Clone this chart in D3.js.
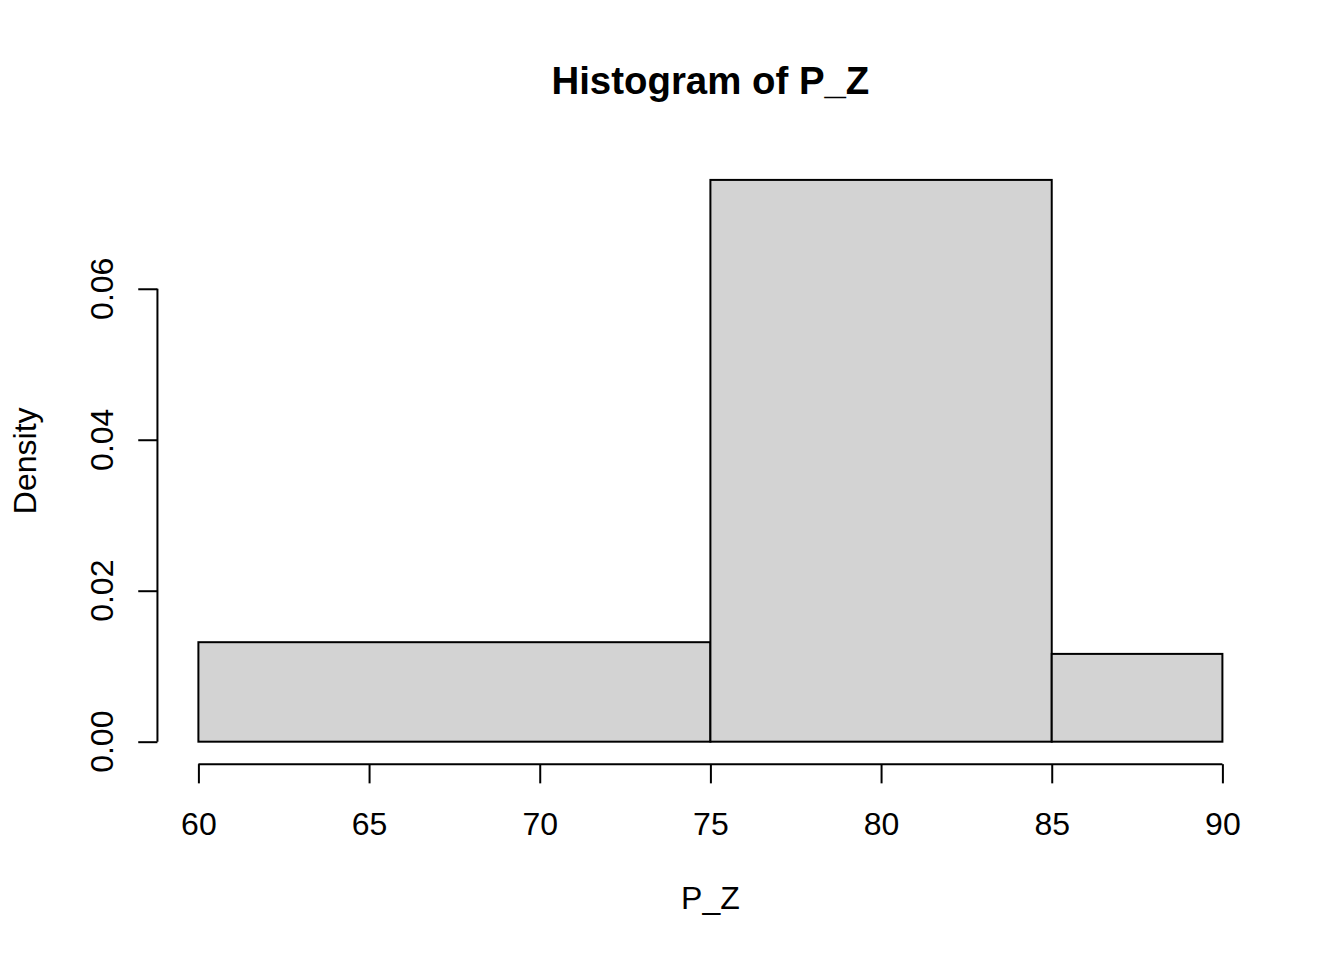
<!DOCTYPE html>
<html>
<head>
<meta charset="utf-8">
<script src="https://cdn.jsdelivr.net/npm/d3@7"></script>
<style>
  html, body { margin: 0; padding: 0; background: #fff; }
  svg { display: block; }
  text { font-family: "Liberation Sans", Arial, sans-serif; fill: #000; }
</style>
</head>
<body>
<svg id="chart" width="1344" height="960"></svg>
<script>
// Data
const binStarts = [60, 75, 85];
const binEnds = [75, 85, 90];
const densities = [0.01318, 0.07442, 0.01163];
const xTicks = [60, 65, 70, 75, 80, 85, 90];
const yTicks = [0, 0.02, 0.04, 0.06];
const yTickLabels = ["0.00", "0.02", "0.04", "0.06"];
const titleText = "Histogram of P_Z";
const xLabel = "P_Z";
const yLabel = "Density";

const W = 1344, H = 960;
const line = 38.4; // one margin line in px
const plot = { left: 4.1 * line, right: W - 2.1 * line, top: 4.1 * line, bottom: H - 5.1 * line };

const svg = d3.select("#chart");

const xmin = 60, xmax = 90, xpad = (xmax - xmin) * 0.04;
const ymax = d3.max(densities), ypad = ymax * 0.04;

const x = d3.scaleLinear().domain([xmin - xpad, xmax + xpad]).range([plot.left, plot.right]);
const y = d3.scaleLinear().domain([0 - ypad, ymax + ypad]).range([plot.bottom, plot.top]);

const bins = binStarts.map((s, i) => ({ x0: s, x1: binEnds[i], d: densities[i] }));

// Bars
svg.append("g").selectAll("rect").data(bins).join("rect")
  .attr("x", d => x(d.x0))
  .attr("y", d => y(d.d))
  .attr("width", d => x(d.x1) - x(d.x0))
  .attr("height", d => y(0) - y(d.d))
  .attr("fill", "#d3d3d3")
  .attr("stroke", "#000")
  .attr("stroke-width", 2);

// X axis
const xAxis = svg.append("g")
  .attr("transform", `translate(0,${plot.bottom})`)
  .call(d3.axisBottom(x).tickValues(xTicks).tickSize(0.5 * line).tickPadding(29).tickSizeOuter(0).tickFormat(d3.format("d")));
xAxis.select(".domain").attr("d", `M${x(xTicks[0])},0H${x(xTicks[xTicks.length - 1])}`)
  .attr("stroke", "#000").attr("stroke-width", 2);
xAxis.selectAll(".tick line").attr("stroke", "#000").attr("stroke-width", 2);
xAxis.selectAll(".tick text").attr("font-size", 32).attr("font-family", "Liberation Sans, Arial, sans-serif").attr("fill", "#000");

// Y axis
const yAxis = svg.append("g")
  .attr("transform", `translate(${plot.left},0)`)
  .call(d3.axisLeft(y).tickValues(yTicks).tickSize(0.5 * line).tickSizeOuter(0).tickFormat(""));
yAxis.select(".domain").attr("d", `M0,${y(yTicks[0])}V${y(yTicks[yTicks.length - 1])}`)
  .attr("stroke", "#000").attr("stroke-width", 2);
yAxis.selectAll(".tick line").attr("stroke", "#000").attr("stroke-width", 2);

svg.append("g").selectAll("text").data(yTicks).join("text")
  .attr("transform", (d) => `translate(113,${y(d)}) rotate(-90)`)
  .attr("text-anchor", "middle")
  .attr("font-size", 32)
  .text((d, i) => yTickLabels[i]);

// Title and axis labels
svg.append("text")
  .attr("x", (plot.left + plot.right) / 2)
  .attr("y", 94)
  .attr("text-anchor", "middle")
  .attr("font-size", 38.4)
  .attr("font-weight", "bold")
  .text(titleText);

svg.append("text")
  .attr("x", (plot.left + plot.right) / 2)
  .attr("y", 909)
  .attr("text-anchor", "middle")
  .attr("font-size", 32)
  .text(xLabel);

svg.append("text")
  .attr("transform", `translate(36,${(plot.top + plot.bottom) / 2}) rotate(-90)`)
  .attr("text-anchor", "middle")
  .attr("font-size", 32)
  .text(yLabel);
</script>
</body>
</html>
